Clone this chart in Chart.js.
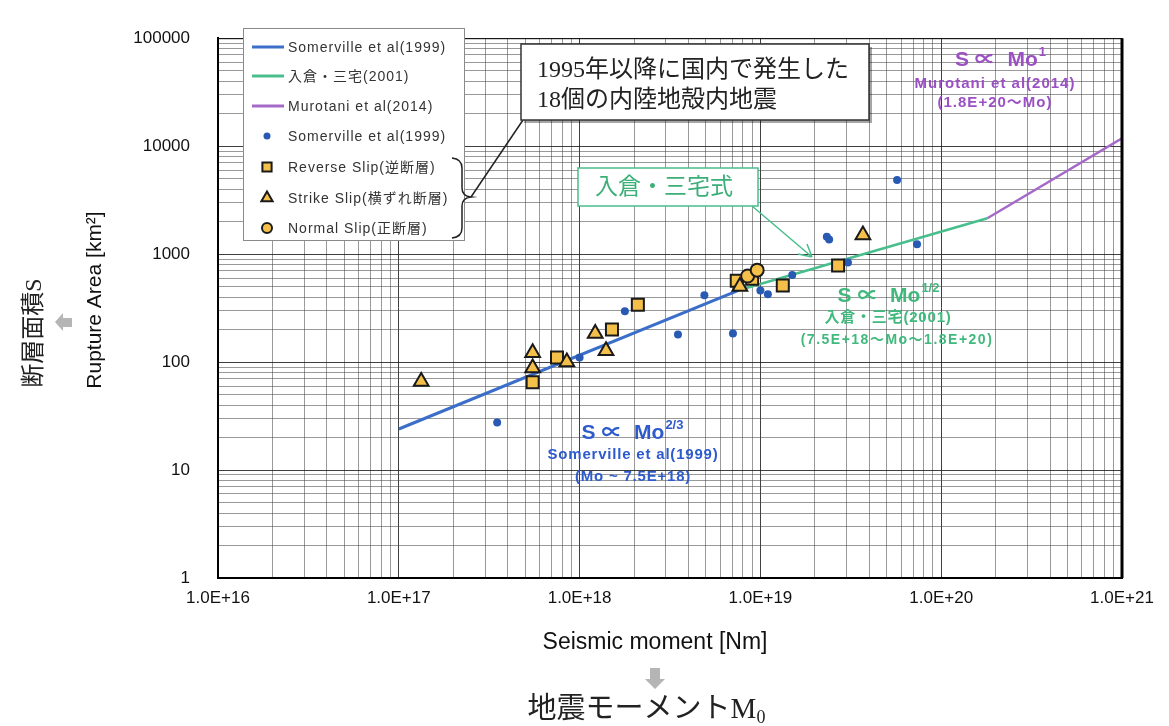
<!DOCTYPE html>
<html>
<head>
<meta charset="utf-8">
<script src="https://cdn.jsdelivr.net/npm/chart.js@4.4.1/dist/chart.umd.min.js"></script>
<style>
  html, body { margin: 0; padding: 0; background: #fff; }
  #wrap { position: relative; width: 1169px; height: 726px; }
</style>
</head>
<body>
<div id="wrap"><canvas id="chart" width="1169" height="726"></canvas></div>
<script>
// Rupture area vs seismic moment (log-log)

// Scaling relations, [Mo (Nm), S (km2)] end points
const somervilleLine = [[1e17, 24], [7.5e18, 460]];
const irikuraLine = [[7.5e18, 460], [1.8e20, 2150]];
const murotaniLine = [[1.8e20, 2150], [1e21, 11800]];

// Somerville et al (1999) events
const somervilleMo = [3.5e17, 1.0e18, 1.78e18, 3.5e18, 4.9e18, 7.05e18, 1.0e19, 1.1e19, 1.5e19, 2.33e19, 2.4e19, 3.05e19, 5.7e19, 7.35e19];
const somervilleS = [27.5, 110, 295, 180, 417, 184, 461, 425, 640, 1450, 1365, 835, 4850, 1233];

// 18 inland crustal earthquakes in Japan since 1995
const reverseMo = [5.5e17, 7.5e17, 1.51e18, 2.1e18, 7.4e18, 9.0e18, 1.33e19, 2.69e19];
const reverseS = [65, 110, 200, 340, 566, 590, 512, 785];
const strikeMo = [1.33e17, 5.5e17, 5.5e17, 8.5e17, 1.22e18, 1.4e18, 7.7e18, 3.69e19];
const strikeS = [66, 122, 88, 100, 184, 127, 501, 1500];
const normalMo = [8.5e18, 9.6e18];
const normalS = [627, 710];

// Axes
const xDecades = [16, 17, 18, 19, 20, 21];
const xTickLabels = ['1.0E+16', '1.0E+17', '1.0E+18', '1.0E+19', '1.0E+20', '1.0E+21'];
const yDecades = [0, 1, 2, 3, 4, 5];
const yTickLabels = ['1', '10', '100', '1000', '10000', '100000'];

const legendLabels = [
    'Somerville et al(1999)',
    '入倉・三宅(2001)',
    'Murotani et al(2014)',
    'Somerville et al(1999)',
    'Reverse Slip(逆断層)',
    'Strike Slip(横ずれ断層)',
    'Normal Slip(正断層)'
];

const BLUE = 'rgb(58, 110, 200)';
const GREEN = 'rgb(72, 190, 140)';
const PURPLE = 'rgb(165, 105, 200)';
const DOT = 'rgb(40, 90, 180)';
const GOLD = 'rgb(245, 192, 74)';

const SANS = '"Liberation Sans", "Noto Sans CJK JP", sans-serif';
const SERIF = '"Liberation Serif", "Noto Sans CJK JP", serif';

function toXY(mo, s) {
    return mo.map((m, i) => ({ x: m, y: s[i] }));
}

function pairs(arr) {
    return arr.map(p => ({ x: p[0], y: p[1] }));
}

function logTicks(decades) {
    const ticks = [];
    for (let i = 0; i < decades.length - 1; i++) {
        for (let k = 1; k <= 9; k++) {
            ticks.push({ value: k * Math.pow(10, decades[i]), major: k === 1 });
        }
    }
    ticks.push({ value: Math.pow(10, decades[decades.length - 1]), major: true });
    return ticks;
}

function decadeLabel(value, decades, labels) {
    const e = Math.round(Math.log10(value));
    if (Math.abs(Math.log10(value) - e) > 1e-6) return '';
    const idx = decades.indexOf(e);
    return idx >= 0 ? labels[idx] : '';
}

function gridColor(ctx) {
    return ctx.tick && ctx.tick.major ? 'rgba(30, 30, 30, 0.85)' : 'rgba(70, 70, 70, 0.55)';
}

function powerText(ctx, base, sup, cx, cy, size, color) {
    ctx.letterSpacing = '0px';
    ctx.font = 'bold ' + size + 'px ' + SANS;
    const supFont = 'bold ' + Math.round(size * 0.6) + 'px ' + SANS;
    const wBase = ctx.measureText(base).width;
    ctx.font = supFont;
    const wSup = ctx.measureText(sup).width;
    const x0 = cx - (wBase + wSup) / 2;
    ctx.fillStyle = color;
    ctx.textAlign = 'left';
    ctx.textBaseline = 'middle';
    ctx.font = 'bold ' + size + 'px ' + SANS;
    ctx.fillText(base, x0, cy);
    ctx.font = supFont;
    ctx.fillText(sup, x0 + wBase + 1, cy - size * 0.35);
}

function centerText(ctx, text, cx, cy, font, color, spacing) {
    ctx.letterSpacing = (spacing || 0) + 'px';
    ctx.font = font;
    ctx.fillStyle = color;
    ctx.textAlign = 'center';
    ctx.textBaseline = 'middle';
    ctx.fillText(text, cx, cy);
    ctx.letterSpacing = '0px';
}

function drawLegend(chart, ctx) {
    const x0 = 243, y0 = 28, w = 221, h = 212;
    ctx.fillStyle = '#fff';
    ctx.fillRect(x0, y0, w, h);
    ctx.strokeStyle = '#8a8a8a';
    ctx.lineWidth = 1;
    ctx.strokeRect(x0 + 0.5, y0 + 0.5, w, h);

    const rows = [47, 76, 106, 136, 167, 198, 228];
    ctx.font = '14px ' + SANS;
    ctx.letterSpacing = '1px';
    ctx.textAlign = 'left';
    ctx.textBaseline = 'middle';
    chart.data.datasets.forEach((ds, i) => {
        const y = rows[i];
        if (ds.showLine) {
            ctx.strokeStyle = ds.borderColor;
            ctx.lineWidth = 3;
            ctx.beginPath();
            ctx.moveTo(252, y);
            ctx.lineTo(284, y);
            ctx.stroke();
        } else {
            ctx.fillStyle = ds.backgroundColor;
            ctx.strokeStyle = ds.borderColor;
            ctx.lineWidth = ds.borderWidth;
            Chart.helpers.drawPoint(ctx, {
                pointStyle: ds.pointStyle,
                radius: ds.pointStyle === 'circle' ? (ds.borderWidth ? 5 : 3.5) : 6.5,
                rotation: 0,
                borderWidth: ds.borderWidth
            }, 267, y);
        }
        ctx.fillStyle = '#333';
        ctx.fillText(legendLabels[i], 288, y + 1);
    });
    ctx.letterSpacing = '0px';

    // brace grouping the three fault types
    ctx.strokeStyle = '#222';
    ctx.lineWidth = 1.5;
    ctx.beginPath();
    ctx.moveTo(452, 158);
    ctx.quadraticCurveTo(462, 159, 462, 168);
    ctx.lineTo(462, 188);
    ctx.quadraticCurveTo(462, 196, 471, 197);
    ctx.quadraticCurveTo(462, 198, 462, 206);
    ctx.lineTo(462, 228);
    ctx.quadraticCurveTo(462, 237, 452, 238);
    ctx.stroke();

    // connector to callout
    ctx.beginPath();
    ctx.moveTo(471, 197);
    ctx.lineTo(523, 120);
    ctx.stroke();
}

function drawCallouts(ctx) {
    // black callout
    ctx.fillStyle = 'rgba(0,0,0,0.35)';
    ctx.fillRect(524, 47, 348, 76);
    ctx.fillStyle = '#fff';
    ctx.fillRect(521, 44, 348, 76);
    ctx.strokeStyle = '#333';
    ctx.lineWidth = 1.5;
    ctx.strokeRect(521, 44, 348, 76);
    ctx.fillStyle = '#222';
    ctx.font = '24px ' + SERIF;
    ctx.textAlign = 'left';
    ctx.textBaseline = 'middle';
    ctx.fillText('1995年以降に国内で発生した', 537, 71);
    ctx.fillText('18個の内陸地殻内地震', 537, 101);

    // green formula box with arrow
    ctx.fillStyle = '#fff';
    ctx.fillRect(578, 168, 180, 38);
    ctx.strokeStyle = GREEN;
    ctx.lineWidth = 1.5;
    ctx.strokeRect(578, 168, 180, 38);
    centerText(ctx, '入倉・三宅式', 664, 188, '23px ' + SANS, 'rgb(60, 175, 120)');

    ctx.beginPath();
    ctx.moveTo(752, 206);
    ctx.lineTo(812, 257);
    ctx.moveTo(812, 257);
    ctx.lineTo(798, 254);
    ctx.moveTo(812, 257);
    ctx.lineTo(807, 244);
    ctx.stroke();
}

function drawAnnotations(ctx) {
    const blue = 'rgb(45, 90, 205)';
    powerText(ctx, 'S ∝  Mo', '2/3', 632, 433, 21, blue);
    centerText(ctx, 'Somerville et al(1999)', 633, 455, 'bold 15px ' + SANS, blue, 0.8);
    centerText(ctx, '(Mo ~ 7.5E+18)', 633, 477, 'bold 15px ' + SANS, blue, 0.8);

    const green = 'rgb(64, 185, 125)';
    powerText(ctx, 'S ∝  Mo', '1/2', 888, 296, 21, green);
    centerText(ctx, '入倉・三宅(2001)', 888, 318, 'bold 15px ' + SANS, green, 0.8);
    centerText(ctx, '(7.5E+18～Mo～1.8E+20)', 897, 340, 'bold 14px ' + SANS, green, 1.5);

    const purple = 'rgb(155, 80, 195)';
    powerText(ctx, 'S ∝  Mo', '1', 1000, 60, 21, purple);
    centerText(ctx, 'Murotani et al(2014)', 995, 84, 'bold 15px ' + SANS, purple, 1);
    centerText(ctx, '(1.8E+20～Mo)', 995, 103, 'bold 15px ' + SANS, purple, 1);
}

function drawAxisTitles(ctx) {
    // y axis
    ctx.save();
    ctx.translate(95, 300);
    ctx.rotate(-Math.PI / 2);
    centerText(ctx, 'Rupture Area [km²]', 0, 0, '21px ' + SANS, '#111');
    ctx.restore();

    ctx.save();
    ctx.translate(35, 333);
    ctx.rotate(-Math.PI / 2);
    centerText(ctx, '断層面積S', 0, 0, '24px ' + SERIF, '#222');
    ctx.restore();

    // gray arrow pointing left
    ctx.fillStyle = '#b5b5b5';
    ctx.beginPath();
    ctx.moveTo(55, 322);
    ctx.lineTo(63, 313);
    ctx.lineTo(63, 318);
    ctx.lineTo(72, 318);
    ctx.lineTo(72, 327);
    ctx.lineTo(63, 327);
    ctx.lineTo(63, 331);
    ctx.closePath();
    ctx.fill();

    // x axis
    centerText(ctx, 'Seismic moment [Nm]', 655, 643, '23px ' + SANS, '#111');

    ctx.fillStyle = '#b5b5b5';
    ctx.beginPath();
    ctx.moveTo(655, 689);
    ctx.lineTo(645, 679);
    ctx.lineTo(650, 679);
    ctx.lineTo(650, 668);
    ctx.lineTo(660, 668);
    ctx.lineTo(660, 679);
    ctx.lineTo(665, 679);
    ctx.closePath();
    ctx.fill();

    ctx.font = '29px ' + SERIF;
    ctx.fillStyle = '#222';
    ctx.textAlign = 'left';
    ctx.textBaseline = 'middle';
    const main = '地震モーメントM';
    const wMain = ctx.measureText(main).width;
    const x0 = 642 - wMain / 2;
    ctx.fillText(main, x0, 710);
    ctx.font = '18px ' + SERIF;
    ctx.fillText('0', x0 + wMain, 718);
}

const decor = {
    id: 'decor',
    afterDraw(chart) {
        const ctx = chart.ctx;
        const a = chart.chartArea;
        ctx.save();
        ctx.strokeStyle = '#111';
        ctx.lineWidth = 1;
        ctx.beginPath();
        ctx.moveTo(a.left, a.top + 0.5);
        ctx.lineTo(a.right, a.top + 0.5);
        ctx.stroke();
        ctx.strokeStyle = '#000';
        ctx.lineWidth = 3;
        ctx.beginPath();
        ctx.moveTo(a.right, a.top);
        ctx.lineTo(a.right, a.bottom);
        ctx.stroke();

        drawLegend(chart, ctx);
        drawCallouts(ctx);
        drawAnnotations(ctx);
        drawAxisTitles(ctx);
        ctx.restore();
    }
};

const ctx = document.getElementById('chart').getContext('2d');

new Chart(ctx, {
    type: 'scatter',
    data: {
        datasets: [
            {
                label: legendLabels[0],
                data: pairs(somervilleLine),
                showLine: true,
                borderColor: BLUE,
                backgroundColor: BLUE,
                borderWidth: 3,
                pointRadius: 0,
                order: 4
            },
            {
                label: legendLabels[1],
                data: pairs(irikuraLine),
                showLine: true,
                borderColor: GREEN,
                backgroundColor: GREEN,
                borderWidth: 2.5,
                pointRadius: 0,
                order: 4
            },
            {
                label: legendLabels[2],
                data: pairs(murotaniLine),
                showLine: true,
                borderColor: PURPLE,
                backgroundColor: PURPLE,
                borderWidth: 2.5,
                pointRadius: 0,
                order: 4
            },
            {
                label: legendLabels[3],
                data: toXY(somervilleMo, somervilleS),
                pointStyle: 'circle',
                pointRadius: 4,
                borderWidth: 0,
                borderColor: DOT,
                backgroundColor: DOT,
                order: 3
            },
            {
                label: legendLabels[4],
                data: toXY(reverseMo, reverseS),
                pointStyle: 'rect',
                pointRadius: 8.5,
                borderWidth: 2,
                borderColor: '#1a1a1a',
                backgroundColor: GOLD,
                order: 2
            },
            {
                label: legendLabels[5],
                data: toXY(strikeMo, strikeS),
                pointStyle: 'triangle',
                pointRadius: 8.5,
                borderWidth: 2,
                borderColor: '#1a1a1a',
                backgroundColor: GOLD,
                order: 1
            },
            {
                label: legendLabels[6],
                data: toXY(normalMo, normalS),
                pointStyle: 'circle',
                pointRadius: 6.5,
                borderWidth: 2,
                borderColor: '#1a1a1a',
                backgroundColor: GOLD,
                order: 0
            }
        ]
    },
    options: {
        responsive: false,
        animation: false,
        devicePixelRatio: 1,
        layout: { padding: { top: 15, right: 47, left: 0, bottom: 0 } },
        plugins: {
            legend: { display: false },
            tooltip: { enabled: false }
        },
        scales: {
            x: {
                type: 'logarithmic',
                min: 1e16,
                max: 1e21,
                afterBuildTicks: scale => { scale.ticks = logTicks(xDecades); },
                afterFit: scale => { scale.height = 148; },
                grid: { color: gridColor, lineWidth: 1, drawTicks: false },
                border: { color: '#000', width: 2 },
                ticks: {
                    autoSkip: false,
                    maxRotation: 0,
                    padding: 10,
                    color: '#111',
                    font: { family: 'Liberation Sans', size: 17 },
                    callback: value => decadeLabel(value, xDecades, xTickLabels)
                }
            },
            y: {
                type: 'logarithmic',
                min: 1,
                max: 1e5,
                afterBuildTicks: scale => { scale.ticks = logTicks(yDecades); },
                afterFit: scale => { scale.width = 218; },
                grid: { color: gridColor, lineWidth: 1, drawTicks: false },
                border: { color: '#000', width: 2 },
                ticks: {
                    autoSkip: false,
                    padding: 28,
                    color: '#111',
                    font: { family: 'Liberation Sans', size: 17 },
                    callback: value => decadeLabel(value, yDecades, yTickLabels)
                }
            }
        }
    },
    plugins: [decor]
});
</script>
</body>
</html>
